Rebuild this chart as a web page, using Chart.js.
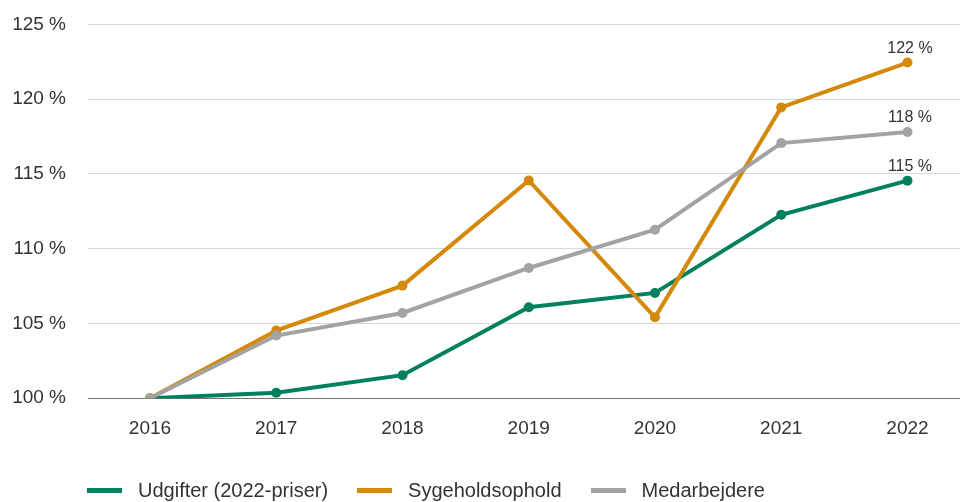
<!DOCTYPE html>
<html>
<head>
<meta charset="utf-8">
<script src="https://cdn.jsdelivr.net/npm/chart.js@4"></script>
<style>
  html, body { margin: 0; padding: 0; background: #fff; }
  #wrap { position: relative; width: 960px; height: 502px; overflow: hidden; }
  #myChart { position: absolute; left: 0; top: -9px; }
  #legend { position: absolute; left: 87px; top: 479px; display: flex; align-items: center;
            font-family: "Liberation Sans", Arial, sans-serif; font-size: 20px; color: #333; white-space: nowrap; }
  #legend .item { display: flex; align-items: center; margin-right: 29px; }
  #legend .box { width: 35px; height: 5px; margin-right: 16px; }
</style>
</head>
<body>
<div id="wrap">
  <canvas id="myChart" width="965" height="511"></canvas>
  <div id="legend"></div>
</div>
<script>
var years = [2016, 2017, 2018, 2019, 2020, 2021, 2022];
var udgifter = [100, 100.36, 101.54, 106.08, 107.04, 112.27, 114.55];
var sygeholdsophold = [100, 104.52, 107.53, 114.56, 105.41, 119.45, 122.45];
var medarbejdere = [100, 104.19, 105.70, 108.71, 111.27, 117.06, 117.8];
var yTicks = [100, 105, 110, 115, 120, 125];

var seriesNames = ['Udgifter (2022-priser)', 'Sygeholdsophold', 'Medarbejdere'];
var seriesColors = ['#00805f', '#d4890a', '#a3a3a3'];
var seriesValues = [udgifter, sygeholdsophold, medarbejdere];

function toPoints(values) {
    return values.map(function(v, i) { return { x: years[i], y: v }; });
}

var datasets = seriesValues.map(function(vals, i) {
    return {
        label: seriesNames[i],
        data: toPoints(vals),
        borderColor: seriesColors[i],
        backgroundColor: seriesColors[i],
        pointBackgroundColor: seriesColors[i],
        pointBorderWidth: 0,
        pointRadius: 5,
        pointHoverRadius: 5,
        borderWidth: 4,
        tension: 0,
        order: 3 - i
    };
});

// labels at the end of each line
var endLabels = {
    id: 'endLabels',
    afterDatasetsDraw: function(chart) {
        var ctx = chart.ctx;
        ctx.save();
        ctx.font = '16px "Liberation Sans", Arial, sans-serif';
        ctx.fillStyle = '#333';
        ctx.textAlign = 'center';
        ctx.textBaseline = 'middle';
        chart.data.datasets.forEach(function(ds, i) {
            var meta = chart.getDatasetMeta(i);
            var last = meta.data[meta.data.length - 1];
            var v = ds.data[ds.data.length - 1].y;
            ctx.fillText(Math.round(v) + ' %', last.x + 2.5, last.y - 14);
        });
        ctx.restore();
    }
};

var ctx = document.getElementById('myChart').getContext('2d');
window.myChart = new Chart(ctx, {
    type: 'line',
    data: { datasets: datasets },
    options: {
        responsive: false,
        animation: false,
        layout: { padding: { top: 5, bottom: 51, right: 0, left: 0 } },
        plugins: {
            legend: { display: false },
            tooltip: { enabled: false }
        },
        scales: {
            x: {
                type: 'linear',
                min: 2015.509,
                max: 2022.416,
                afterBuildTicks: function(scale) {
                    scale.ticks = years.map(function(y) { return { value: y }; });
                },
                grid: { display: false },
                border: { display: false },
                ticks: {
                    padding: 11,
                    color: '#333',
                    font: { family: '"Liberation Sans", Arial, sans-serif', size: 19 },
                    callback: function(v) { return String(v); }
                }
            },
            y: {
                min: 100,
                max: 125,
                afterBuildTicks: function(scale) {
                    scale.ticks = yTicks.map(function(v) { return { value: v }; });
                },
                afterFit: function(scale) { scale.width = 88; },
                border: { display: false },
                grid: {
                    drawTicks: false,
                    lineWidth: 1,
                    color: function(c) { return c.tick && c.tick.value === 100 ? '#707070' : '#d9d9d9'; }
                },
                ticks: {
                    padding: 22,
                    color: '#333',
                    font: { family: '"Liberation Sans", Arial, sans-serif', size: 19 },
                    callback: function(v) { return v + ' %'; }
                }
            }
        }
    },
    plugins: [endLabels]
});

var legend = document.getElementById('legend');
seriesNames.forEach(function(name, i) {
    var item = document.createElement('div');
    item.className = 'item';
    var box = document.createElement('span');
    box.className = 'box';
    box.style.background = seriesColors[i];
    var txt = document.createElement('span');
    txt.textContent = name;
    item.appendChild(box);
    item.appendChild(txt);
    legend.appendChild(item);
});
</script>
</body>
</html>
